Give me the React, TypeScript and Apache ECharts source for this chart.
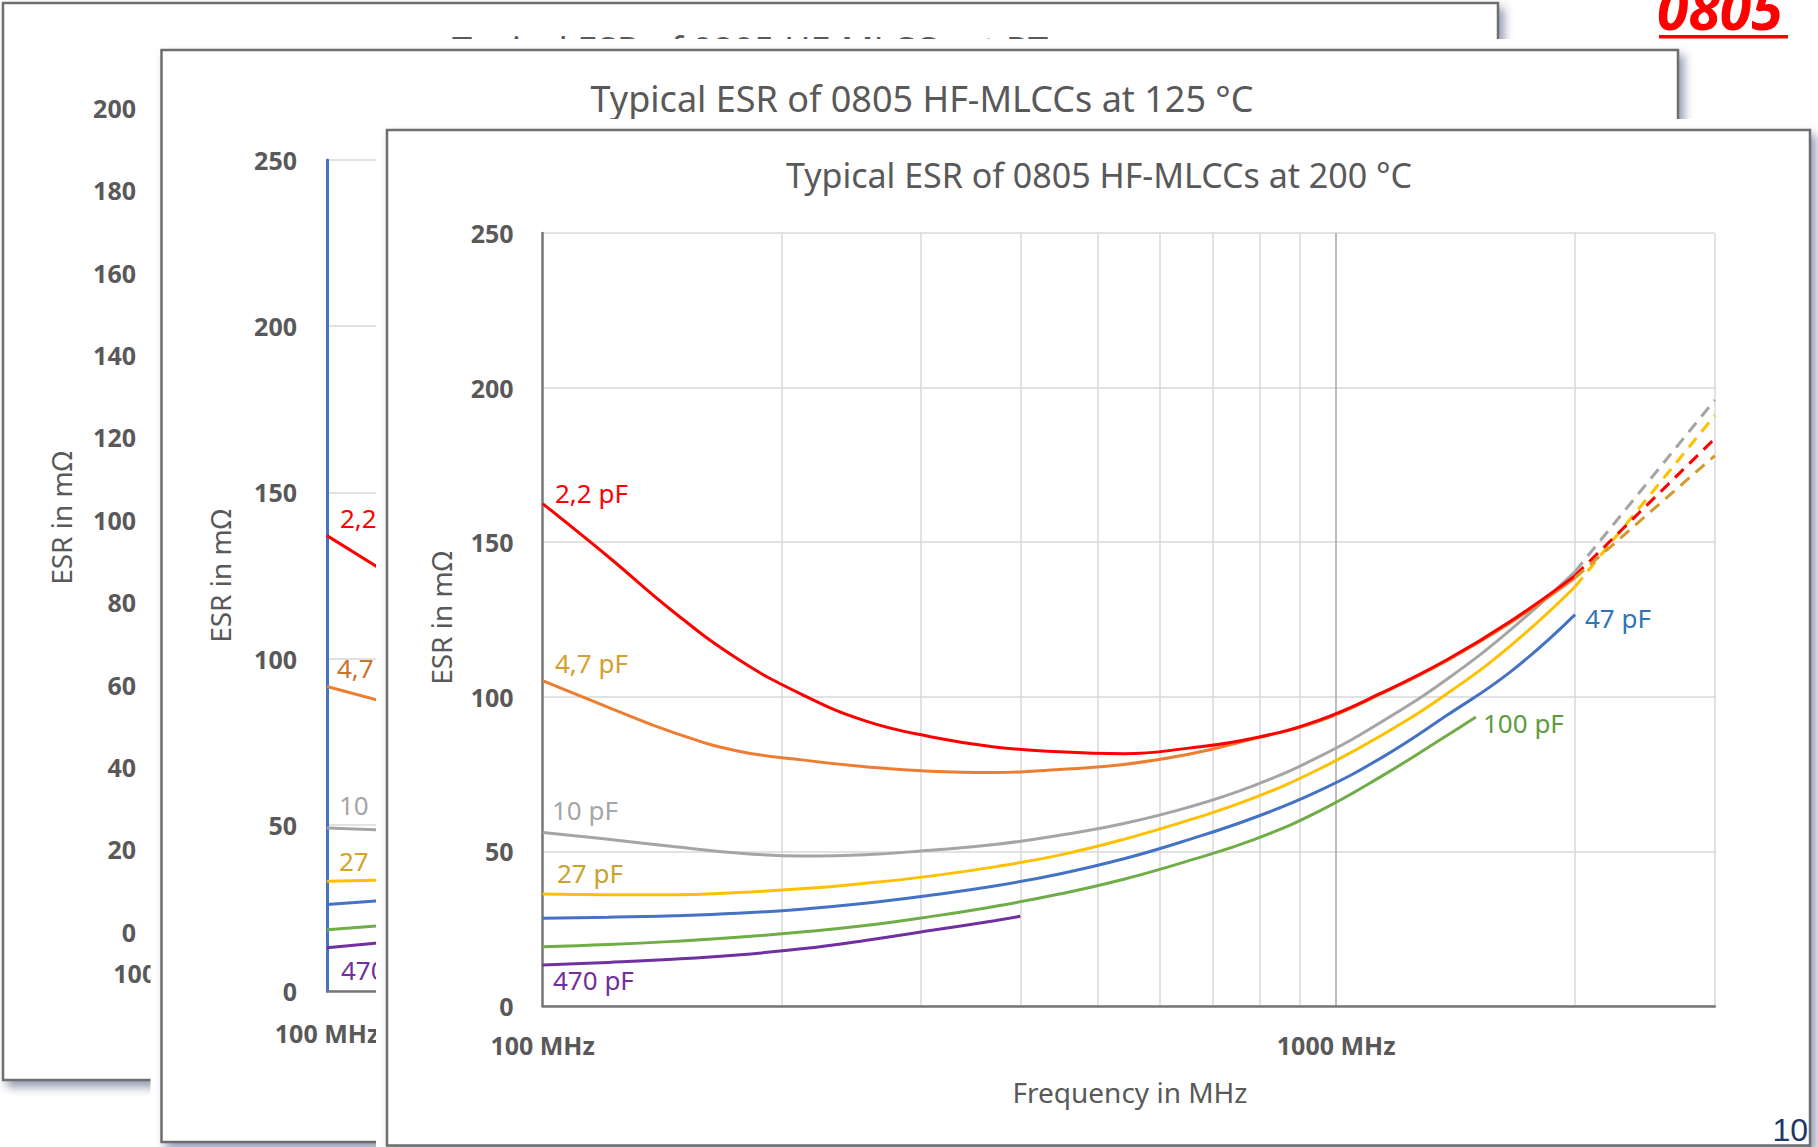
import React, { useEffect, useRef } from 'react';
import * as echarts from 'echarts';

// ---------- data ----------
// Front chart: Typical ESR of 0805 HF-MLCCs at 200 °C (frequency in MHz, ESR in mΩ)
const freqGrid = [100, 121, 146, 176, 212, 255, 308, 371, 448, 540, 652, 786, 948, 1144, 1379, 1664, 2000];
const esr2p2 = [162.5, 145.3, 127.6, 112.3, 100.8, 92.2, 87.1, 83.8, 82.2, 81.6, 83.4, 86.6, 92.3, 101.4, 112.0, 124.7, 139.2];
const esr4p7 = [105.2, 96.6, 88.5, 82.5, 79.6, 77.4, 75.9, 75.5, 76.5, 78.1, 81.4, 86.4, 92.0, 101.2, 111.7, 124.2, 138.5];
const esr10 = [56.1, 53.9, 51.6, 49.5, 48.5, 48.9, 50.4, 52.2, 55.2, 59.0, 64.3, 71.2, 80.4, 92.1, 105.7, 122.0, 140.5];
const esr27 = [36.2, 36.0, 36.0, 36.7, 37.9, 39.7, 42.0, 45.0, 48.8, 53.9, 60.1, 67.2, 76.4, 87.7, 101.0, 116.8, 135.6];
const esr47 = [28.4, 28.7, 29.2, 30.0, 31.3, 33.2, 35.8, 38.8, 42.7, 47.6, 53.8, 60.8, 69.4, 80.5, 94.0, 108.4, 126.6];
const freq100 = [100, 121, 146, 176, 212, 255, 308, 371, 448, 540, 652, 786, 948, 1144, 1379, 1500];
const esr100 = [19.2, 19.9, 20.9, 22.2, 23.9, 26.0, 28.9, 32.2, 36.2, 41.0, 47.0, 53.7, 62.8, 74.5, 87.5, 93.5];
const freq470 = [100, 121, 146, 176, 212, 255, 308, 371, 400];
const esr470 = [13.3, 14.1, 15.1, 16.5, 18.5, 21.2, 24.4, 27.6, 29.0];

// dashed extrapolations 2000 -> 3000 MHz
const extFreq = [2000, 3000];
const ext10 = [140.5, 196];
const ext27 = [135.6, 191];
const ext2p2 = [139.2, 183.5];
const ext4p7 = [138.5, 178];

// Middle chart (125 °C), only the first stub of each curve is visible
const midFreq = [100, 120];
const mid2p2 = [137, 124];
const mid4p7 = [91.6, 86];
const mid10 = [49, 48.3];
const mid27 = [33, 33.5];
const mid47 = [26, 27.5];
const mid100 = [18.4, 20];
const mid470 = [13, 15];

// axes
const xTickLabels: Record<number, string> = { 100: '100 MHz', 1000: '1000 MHz' };
const xMin = 100;
const xMax = 3000;
const backYMax = 200;
const backYStep = 20;
const yMax = 250;
const yStep = 50;
const minorGridFreqs = [200, 300, 400, 500, 600, 700, 800, 900, 2000, 3000];
const majorGridFreqs = [1000];

// ---------- styling ----------
const FONT = '"Noto Sans", "DejaVu Sans", sans-serif';
const GREY_TXT = '#595959';
const C = {
  red: '#ff0000',
  orange: '#ed7d31',
  gray: '#a5a5a5',
  yellow: '#ffc000',
  blue: '#4472c4',
  green: '#70ad47',
  purple: '#7030a0',
  darkGold: '#d39a2a',
};

const pairs = (xs: number[], ys: number[]) => ys.map((y, i) => [xs[i], y]);

function buildOption() {
  const axisLabelStyle = {
    fontFamily: FONT,
    fontSize: 25,
    fontWeight: 'bold',
    color: GREY_TXT,
  };
  const xFormatter = (v: number) => xTickLabels[Math.round(v)] || '';

  const frontLine = (name: string, xs: number[], ys: number[], color: string) => ({
    name,
    type: 'line',
    xAxisIndex: 2,
    yAxisIndex: 2,
    data: pairs(xs, ys),
    smooth: 0.45,
    showSymbol: false,
    symbol: 'none',
    silent: true,
    z: 8,
    lineStyle: { color, width: 3 },
  });
  const dashLine = (name: string, ys: number[], color: string) => ({
    name,
    type: 'line',
    xAxisIndex: 2,
    yAxisIndex: 2,
    data: pairs(extFreq, ys),
    showSymbol: false,
    symbol: 'none',
    silent: true,
    z: 8,
    lineStyle: { color, width: 3, type: [12, 8] },
  });
  const midLine = (name: string, ys: number[], color: string) => ({
    name,
    type: 'line',
    xAxisIndex: 1,
    yAxisIndex: 1,
    data: pairs(midFreq, ys),
    showSymbol: false,
    symbol: 'none',
    silent: true,
    z: 5,
    lineStyle: { color, width: 3 },
  });

  const txt = (
    text: string,
    x: number,
    y: number,
    opts: { size?: number; color?: string; align?: string; weight?: string; rotation?: number; z?: number; family?: string; style?: string } = {}
  ) => ({
    type: 'text',
    x,
    y,
    rotation: opts.rotation || 0,
    z: opts.z ?? 9,
    silent: true,
    style: {
      text,
      fontFamily: opts.family || FONT,
      fontSize: opts.size || 26,
      fontWeight: opts.weight || 'normal',
      fontStyle: opts.style || 'normal',
      fill: opts.color || GREY_TXT,
      textAlign: opts.align || 'left',
      textVerticalAlign: 'middle',
    },
  });

  const panelShadow = {
    shadowBlur: 10,
    shadowOffsetX: 5,
    shadowOffsetY: 6,
    shadowColor: 'rgba(60,78,120,0.55)',
  };

  const graphic: any[] = [
    // back panel (room temperature)
    {
      type: 'rect', z: 1, z2: 1, silent: true,
      shape: { x: 3, y: 3, width: 1495, height: 1077 },
      style: { fill: '#fff', stroke: '#6e6e6e', lineWidth: 2.5, ...panelShadow },
    },
    txt('Typical ESR of 0805 HF-MLCCs at RT', 750, 49, { size: 36, align: 'center', z: 2 }),
    txt('ESR in mΩ', 61, 518, { size: 28, align: 'center', rotation: Math.PI / 2, z: 2 }),

    // middle panel (125 °C)
    {
      type: 'rect', z: 3, z2: 0, silent: true,
      shape: { x: 150.5, y: 39, width: 1528, height: 1103 },
      style: { fill: '#fff' },
    },
    {
      type: 'rect', z: 3, z2: 1, silent: true,
      shape: { x: 161.5, y: 50, width: 1516.5, height: 1092 },
      style: { fill: '#fff', stroke: '#6e6e6e', lineWidth: 2.5, ...panelShadow },
    },
    txt('Typical ESR of 0805 HF-MLCCs at 125 °C', 922, 98.5, { size: 36, align: 'center', z: 5 }),
    txt('ESR in mΩ', 220, 576, { size: 28, align: 'center', rotation: Math.PI / 2, z: 5 }),
    txt('2,2 pF', 340, 518, { color: C.red, z: 5 }),
    txt('4,7 pF', 337, 668, { color: '#c8742a', z: 5 }),
    txt('10 pF', 339, 805, { color: '#a6a6a6', z: 5 }),
    txt('27 pF', 339, 861, { color: '#d4a22a', z: 5 }),
    txt('470 pF', 341, 970, { color: C.purple, z: 5 }),

    // front panel (200 °C)
    {
      type: 'rect', z: 6, z2: 0, silent: true,
      shape: { x: 376, y: 119, width: 1442, height: 1028 },
      style: { fill: '#fff' },
    },
    {
      type: 'rect', z: 6, z2: 1, silent: true,
      shape: { x: 387, y: 130, width: 1423, height: 1015.5 },
      style: { fill: '#fff', stroke: '#6e6e6e', lineWidth: 2.5, ...panelShadow },
    },
    txt('Typical ESR of 0805 HF-MLCCs at 200 °C', 1099, 175, { size: 34, align: 'center' }),
    txt('ESR in mΩ', 441, 618, { size: 28, align: 'center', rotation: Math.PI / 2 }),
    txt('Frequency in MHz', 1130, 1092, { size: 28, align: 'center' }),
    txt('2,2 pF', 555, 493, { color: C.red }),
    txt('4,7 pF', 555, 663, { color: '#d49f2c' }),
    txt('10 pF', 552, 810, { color: '#a6a6a6' }),
    txt('27 pF', 557, 873, { color: '#c9a22c' }),
    txt('470 pF', 553, 980, { color: C.purple }),
    txt('47 pF', 1585, 618, { color: '#2e75b6' }),
    txt('100 pF', 1483, 723, { color: '#5e9b40' }),

    // slide decorations
    txt('0805', 1657, 8, { size: 57, color: '#ff0000', weight: 'bold', style: 'italic', z: 10 }),
    {
      type: 'rect', z: 10, silent: true,
      shape: { x: 1659, y: 35, width: 129, height: 3.5 },
      style: { fill: '#ff0000' },
    },
    txt('10', 1808, 1130, { size: 32, color: '#1f3864', align: 'right', family: '"Liberation Sans", Arial, sans-serif', z: 10 }),
  ];

  const series: any[] = [
    // middle chart stubs
    midLine('2,2 pF (125 °C)', mid2p2, C.red),
    midLine('4,7 pF (125 °C)', mid4p7, C.orange),
    midLine('10 pF (125 °C)', mid10, C.gray),
    midLine('27 pF (125 °C)', mid27, C.yellow),
    midLine('47 pF (125 °C)', mid47, C.blue),
    midLine('100 pF (125 °C)', mid100, C.green),
    midLine('470 pF (125 °C)', mid470, C.purple),

    // front chart vertical grid lines
    {
      type: 'lines',
      coordinateSystem: 'cartesian2d',
      xAxisIndex: 2,
      yAxisIndex: 2,
      silent: true,
      z: 7,
      data: minorGridFreqs.map((f) => ({ coords: [[f, 0], [f, yMax]] })),
      lineStyle: { color: '#d9d9d9', width: 1.5, opacity: 1 },
    },
    {
      type: 'lines',
      coordinateSystem: 'cartesian2d',
      xAxisIndex: 2,
      yAxisIndex: 2,
      silent: true,
      z: 7,
      data: majorGridFreqs.map((f) => ({ coords: [[f, 0], [f, yMax]] })),
      lineStyle: { color: '#a6a6a6', width: 1.5, opacity: 1 },
    },

    // front chart curves
    frontLine('470 pF', freq470, esr470, C.purple),
    frontLine('100 pF', freq100, esr100, C.green),
    frontLine('47 pF', freqGrid, esr47, C.blue),
    frontLine('27 pF', freqGrid, esr27, C.yellow),
    frontLine('10 pF', freqGrid, esr10, C.gray),
    frontLine('4,7 pF', freqGrid, esr4p7, C.orange),
    frontLine('2,2 pF', freqGrid, esr2p2, C.red),
    dashLine('10 pF ext', ext10, C.gray),
    dashLine('27 pF ext', ext27, C.yellow),
    dashLine('2,2 pF ext', ext2p2, C.red),
    dashLine('4,7 pF ext', ext4p7, C.darkGold),
  ];

  return {
    animation: false,
    backgroundColor: '#ffffff',
    grid: [
      { left: 165.5, top: 108, width: 1200, height: 823.7, show: false },
      { left: 327, top: 160, width: 1293, height: 831, show: false },
      { left: 542.6, top: 233, width: 1172.2, height: 773, show: false },
    ],
    xAxis: [
      {
        type: 'log', gridIndex: 0, min: xMin, max: xMax, logBase: 10, z: 2,
        axisLine: { show: false }, axisTick: { show: false }, splitLine: { show: false },
        axisLabel: { ...axisLabelStyle, margin: 29, formatter: xFormatter },
      },
      {
        type: 'log', gridIndex: 1, min: xMin, max: xMax, logBase: 10, z: 4,
        axisLine: { show: true, lineStyle: { color: '#767676', width: 2.5 } },
        axisTick: { show: false }, splitLine: { show: false },
        axisLabel: { ...axisLabelStyle, margin: 29, formatter: xFormatter },
      },
      {
        type: 'log', gridIndex: 2, min: xMin, max: xMax, logBase: 10, z: 7,
        axisLine: { show: true, lineStyle: { color: '#767676', width: 2.5 } },
        axisTick: { show: false }, splitLine: { show: false },
        axisLabel: { ...axisLabelStyle, margin: 26, formatter: xFormatter },
      },
    ],
    yAxis: [
      {
        type: 'value', gridIndex: 0, min: 0, max: backYMax, interval: backYStep, z: 2,
        axisLine: { show: false }, axisTick: { show: false }, splitLine: { show: false },
        axisLabel: { ...axisLabelStyle, margin: 29.5 },
      },
      {
        type: 'value', gridIndex: 1, min: 0, max: yMax, interval: yStep, z: 4,
        axisLine: { show: true, lineStyle: { color: '#4472c4', width: 3 } },
        axisTick: { show: false },
        splitLine: { show: true, lineStyle: { color: '#d9d9d9', width: 1.5 } },
        axisLabel: { ...axisLabelStyle, margin: 30 },
      },
      {
        type: 'value', gridIndex: 2, min: 0, max: yMax, interval: yStep, z: 7,
        axisLine: { show: true, lineStyle: { color: '#767676', width: 2.5 } },
        axisTick: { show: false },
        splitLine: { show: true, lineStyle: { color: '#d9d9d9', width: 1.5 } },
        axisLabel: { ...axisLabelStyle, margin: 29 },
      },
    ],
    graphic,
    series,
  };
}

export default function App() {
  const ref = useRef<HTMLDivElement>(null);
  useEffect(() => {
    if (!ref.current) return;
    const chart = echarts.init(ref.current, null, { renderer: 'svg' });
    chart.setOption(buildOption() as any);
    return () => chart.dispose();
  }, []);
  return (
    <div
      ref={ref}
      style={{ position: 'fixed', left: 0, top: 0, width: 1818, height: 1147, background: '#fff' }}
    />
  );
}
